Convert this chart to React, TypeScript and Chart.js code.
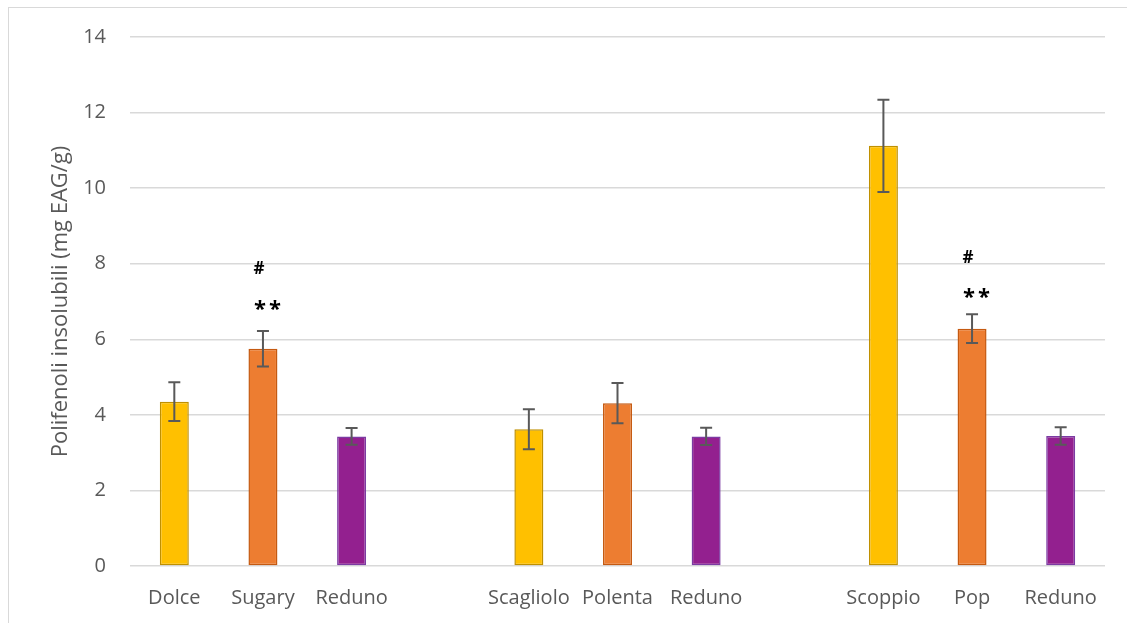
import React, { useEffect, useRef } from "react";
import { Chart, registerables } from "chart.js";

Chart.register(...registerables);

// Categories (blank slots separate the three groups)
const categories = [
  "Dolce", "Sugary", "Reduno", "",
  "Scagliolo", "Polenta", "Reduno", "",
  "Scoppio", "Pop", "Reduno",
];

// Mean insoluble polyphenols (mg EAG/g)
const means = [4.35, 5.75, 3.43, null, 3.62, 4.31, 3.43, null, 11.12, 6.28, 3.44];

// Standard deviations shown as error bars
const errors = [0.51, 0.47, 0.22, null, 0.53, 0.53, 0.23, null, 1.22, 0.38, 0.23];

// Significance marks: level on the y scale where each symbol sits
const hashMarks = [null, 7.89, null, null, null, null, null, null, null, 8.19, null];
const starMarks = [null, 6.9, null, null, null, null, null, null, null, 7.22, null];

const yMin = 0;
const yMax = 14;
const yStep = 2;
const axisTitle = "Polifenoli insolubili (mg EAG/g)";

// Colours of the three bars in each group
const groupFills = ["#FFC000", "#ED7D31", "#93208F"];
const groupStrokes = ["#BF9000", "#C55A11", "#7B3BA3"];

const FONT = "'Open Sans', 'DejaVu Sans', sans-serif";

const errorBarsPlugin = {
  id: "errorBars",
  afterDatasetsDraw(chart: any) {
    const meta = chart.getDatasetMeta(0);
    const y = chart.scales.y;
    const ctx = chart.ctx;
    ctx.save();
    ctx.strokeStyle = "#595959";
    ctx.lineWidth = 2;
    const cap = 6;
    means.forEach((m, i) => {
      const e = errors[i];
      if (m == null || e == null) return;
      const x = meta.data[i].x;
      const top = y.getPixelForValue(m + e);
      const bot = y.getPixelForValue(m - e);
      ctx.beginPath();
      ctx.moveTo(x, top);
      ctx.lineTo(x, bot);
      ctx.moveTo(x - cap, top);
      ctx.lineTo(x + cap, top);
      ctx.moveTo(x - cap, bot);
      ctx.lineTo(x + cap, bot);
      ctx.stroke();
    });
    ctx.restore();
  },
};

function drawCentered(ctx: any, text: string, x: number, yMid: number) {
  const m = ctx.measureText(text);
  const base = yMid + (m.actualBoundingBoxAscent - m.actualBoundingBoxDescent) / 2;
  ctx.fillText(text, x, base);
}

const marksPlugin = {
  id: "sigMarks",
  afterDatasetsDraw(chart: any) {
    const meta = chart.getDatasetMeta(0);
    const y = chart.scales.y;
    const ctx = chart.ctx;
    ctx.save();
    ctx.fillStyle = "#000000";
    ctx.textAlign = "center";
    ctx.textBaseline = "alphabetic";
    hashMarks.forEach((v, i) => {
      if (v == null) return;
      ctx.font = `bold 17px ${FONT}`;
      drawCentered(ctx, "#", meta.data[i].x - 4, y.getPixelForValue(v));
    });
    starMarks.forEach((v, i) => {
      if (v == null) return;
      ctx.font = `bold 22px ${FONT}`;
      try { ctx.letterSpacing = "3px"; } catch (e) { /* older canvas */ }
      drawCentered(ctx, "**", meta.data[i].x + 6, y.getPixelForValue(v));
      try { ctx.letterSpacing = "0px"; } catch (e) { /* older canvas */ }
    });
    ctx.restore();
  },
};

export default function App() {
  const canvasRef = useRef<HTMLCanvasElement | null>(null);

  useEffect(() => {
    const canvas = canvasRef.current;
    if (!canvas) return;
    const fills = categories.map((_, i) => groupFills[i % 4] || "transparent");
    const strokes = categories.map((_, i) => groupStrokes[i % 4] || "transparent");

    const chart = new Chart(canvas, {
      type: "bar",
      data: {
        labels: categories,
        datasets: [
          {
            data: means as any,
            backgroundColor: fills,
            borderColor: strokes,
            borderWidth: 1.5,
            borderSkipped: false,
            categoryPercentage: 1,
            barPercentage: 0.327,
          },
        ],
      },
      options: {
        animation: false,
        responsive: false,
        layout: { padding: { left: 0, right: 22, top: 29, bottom: 0 } },
        plugins: {
          legend: { display: false },
          tooltip: { enabled: false },
        },
        scales: {
          x: {
            grid: { display: false, drawTicks: false },
            border: { display: false },
            ticks: {
              autoSkip: false,
              maxRotation: 0,
              minRotation: 0,
              padding: 20,
              color: "#595959",
              font: { family: FONT, size: 20, lineHeight: 1.2 },
            },
            afterFit(scale: any) {
              scale.height = 57;
            },
          },
          y: {
            min: yMin,
            max: yMax,
            grid: {
              color: "#D9D9D9",
              lineWidth: 1.5,
              drawTicks: true,
              tickLength: 22,
              tickColor: "rgba(0,0,0,0)",
            },
            border: { display: false },
            ticks: {
              stepSize: yStep,
              padding: 2,
              color: "#595959",
              font: { family: FONT, size: 20, lineHeight: 1.2 },
            },
            title: {
              display: true,
              text: axisTitle,
              color: "#595959",
              font: { family: FONT, size: 22, lineHeight: 1.2 },
              padding: { top: 39, bottom: 0 },
            },
            afterFit(scale: any) {
              scale.width = 121;
            },
          },
        },
      },
      plugins: [errorBarsPlugin, marksPlugin],
    });

    return () => chart.destroy();
  }, []);

  return (
    <div
      style={{
        position: "fixed",
        left: 8,
        top: 7,
        width: 1140,
        height: 640,
        borderTop: "1px solid #D9D9D9",
        borderLeft: "1px solid #D9D9D9",
        background: "#FFFFFF",
      }}
    >
      <canvas ref={canvasRef} width={1118} height={615} style={{ display: "block" }} />
    </div>
  );
}
